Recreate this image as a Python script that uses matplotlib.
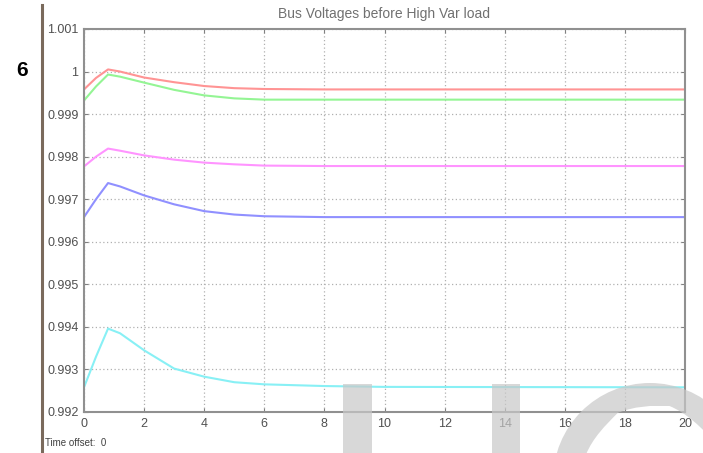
import matplotlib
matplotlib.use("Agg")
import matplotlib.pyplot as plt
from matplotlib.patches import Rectangle, PathPatch
from matplotlib.path import Path
from matplotlib.lines import Line2D

plt.rcParams['font.family'] = ['Liberation Sans', 'DejaVu Sans']

# ---- data ----
t = [0, 0.4, 0.8, 1.2, 2, 3, 4, 5, 6, 8, 10, 20]
v_red = [0.99958, 0.99985, 1.00005, 1.00000, 0.99986, 0.99975, 0.99966, 0.99961, 0.99959, 0.99958, 0.99958, 0.99958]
v_green = [0.99932, 0.99965, 0.99993, 0.99988, 0.99974, 0.99957, 0.99944, 0.99937, 0.99934, 0.99934, 0.99934, 0.99934]
v_magenta = [0.99777, 0.99800, 0.99819, 0.99814, 0.99803, 0.99793, 0.99786, 0.99782, 0.99779, 0.99778, 0.99778, 0.99778]
v_blue = [0.99658, 0.99700, 0.99738, 0.99730, 0.99709, 0.99688, 0.99672, 0.99664, 0.99660, 0.99658, 0.99658, 0.99658]
v_cyan = [0.99258, 0.99330, 0.99396, 0.99385, 0.99345, 0.99302, 0.99283, 0.99270, 0.99265, 0.99261, 0.99259, 0.99258]

yticks = [0.992, 0.993, 0.994, 0.995, 0.996, 0.997, 0.998, 0.999, 1.0, 1.001]
ytick_labels = ["0.992", "0.993", "0.994", "0.995", "0.996", "0.997", "0.998", "0.999", "1", "1.001"]
xticks = [0, 2, 4, 6, 8, 10, 12, 14, 16, 18, 20]
xtick_labels = [str(x) for x in xticks]

title = "Bus Voltages before High Var load"

# ---- figure ----
W, H = 703, 453
fig = plt.figure(figsize=(W / 100, H / 100), dpi=100)
ax = fig.add_axes([84 / W, 1 - 412 / H, (685 - 84) / W, (412 - 29) / H])

series = [(v_red, "#ff9494"), (v_green, "#94f594"), (v_magenta, "#ff94ff"),
          (v_blue, "#9090ff"), (v_cyan, "#88f0f5")]
for vals, col in series:
    ax.plot(t, vals, color=col, lw=1.5, solid_joinstyle="round")

ax.set_xlim(0, 20)
ax.set_ylim(0.992, 1.001)
ax.set_xticks(xticks)
ax.set_xticklabels(xtick_labels)
ax.set_yticks(yticks)
ax.set_yticklabels(ytick_labels)
ax.tick_params(direction="in", length=3, colors="#808080", labelcolor="#505050",
               labelsize=9, top=True, right=True, pad=4)
ax.grid(True, linestyle=(0, (1, 2)), color="#b0b0b0", lw=0.9)
for s in ax.spines.values():
    s.set_color("#909090")
    s.set_linewidth(1.5)
ax.set_title(title, fontsize=10, color="#707070", pad=8)

# left brown rule
fig.add_artist(Line2D([42 / W, 42 / W], [0, 1 - 5 / H], color="#7a6a5c", lw=2.2,
                      transform=fig.transFigure))
fig.text(22 / W, 1 - 70 / H, "6", fontsize=15, fontweight="bold", ha="center", va="center")
fig.text(45 / W, 1 - 443 / H, "Time offset:  0", fontsize=7, color="#404040", va="center")

# watermark shapes
wm = "#c8c8c8"
wax = fig.add_axes([0, 0, 1, 1], zorder=6)
wax.set_xlim(0, W)
wax.set_ylim(H, 0)
wax.axis("off")
wax.patch.set_alpha(0)
wax.add_patch(Rectangle((343, 384), 29, 70, color=wm, alpha=0.7, lw=0))
wax.add_patch(Rectangle((492, 384), 28, 70, color=wm, alpha=0.7, lw=0))
outer = Path.circle((650, 480), 97)
inner = Path.circle((652, 472), 66)
inner_rev = Path(inner.vertices[::-1], inner.codes)
ring = Path.make_compound_path(outer, inner_rev)
wax.add_patch(PathPatch(ring, facecolor=wm, edgecolor="none", alpha=0.7))

fig.savefig("out.png", dpi=100)
